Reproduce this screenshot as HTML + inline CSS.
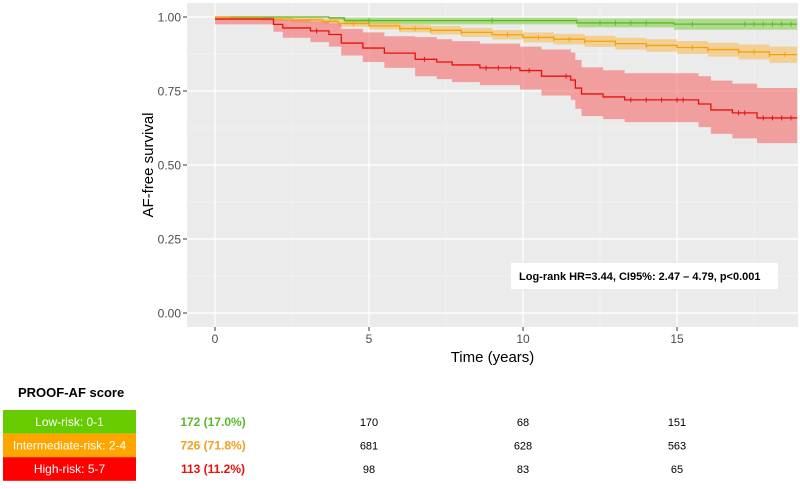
<!DOCTYPE html>
<html><head><meta charset="utf-8"><style>
body{margin:0;background:#fff;width:800px;height:484px;overflow:hidden;font-family:"Liberation Sans",sans-serif}
</style></head><body>
<svg id="chart" width="800" height="484" xmlns="http://www.w3.org/2000/svg"></svg>
<script>
const ticksX=[0,5,10,15];
const ticksY=[0,0.25,0.5,0.75,1];
const tickLabelsY=["0.00","0.25","0.50","0.75","1.00"];
const lowT=[0,3.7,4.2,11.75,14.9];
const lowS=[1,0.997,0.988,0.98,0.976];
const lowLo=[1,0.99,0.975,0.965,0.957];
const lowHi=[1,1,0.998,0.995,0.994];
const lowCens=[5,9,12.5,13,13.5,14,15.5,17.2,17.5,17.8,18.1,18.4,18.7];
const midT=[0,0.5,1.5,2.5,3.5,4,5,6,7,8,9,10,11,12,13,14,15,16,17,18];
const midS=[1,0.997,0.993,0.99,0.985,0.978,0.97,0.961,0.955,0.948,0.94,0.931,0.925,0.918,0.91,0.904,0.897,0.89,0.882,0.873];
const midLo=[1,0.992,0.986,0.982,0.975,0.967,0.958,0.948,0.941,0.933,0.924,0.914,0.907,0.899,0.89,0.883,0.875,0.866,0.857,0.845];
const midHi=[1,1,0.999,0.997,0.994,0.988,0.982,0.974,0.969,0.963,0.956,0.948,0.943,0.937,0.93,0.925,0.919,0.913,0.907,0.9];
const midCens=[4.5,6,6.5,7,8,9.5,10.5,11,11.5,12,13,14,15.5,16,17,17.5,18,18.5];
const highT=[0,1.9,2.2,3.1,3.7,4.1,4.8,5.5,6.5,7.2,7.7,8.6,9.9,10.6,11.55,11.7,11.9,12.6,13.3,15.7,16.1,16.8,17.6];
const highS=[0.993,0.975,0.963,0.953,0.941,0.912,0.895,0.878,0.857,0.848,0.838,0.828,0.819,0.8,0.787,0.76,0.74,0.73,0.72,0.706,0.686,0.676,0.659];
const highLo=[0.975,0.95,0.93,0.915,0.9,0.87,0.848,0.828,0.8,0.79,0.78,0.77,0.755,0.735,0.72,0.69,0.665,0.655,0.645,0.628,0.605,0.59,0.574];
const highHi=[1,0.995,0.99,0.985,0.978,0.96,0.948,0.935,0.932,0.925,0.918,0.91,0.9,0.89,0.88,0.855,0.83,0.82,0.81,0.8,0.785,0.775,0.76];
const highCens=[3.3,6.8,8.8,9.2,9.6,10.2,11.4,13.5,14,14.5,15,15.2,17,17.2,17.8,18.1,18.4,18.7];
const tMax=18.9;
const X0=187,X1=798,Y0=3,Y1=327;
const sx=t=>215+t*30.8;
const sy=v=>313-v*296;
const NS='http://www.w3.org/2000/svg';
const svg=document.getElementById('chart');
function mk(tag,attrs,parent){const e=document.createElementNS(NS,tag);for(const k in attrs)e.setAttribute(k,attrs[k]);(parent||svg).appendChild(e);return e;}
let e=mk('rect',{x:X0,y:Y0,width:X1-X0,height:Y1-Y0,fill:'#ebebeb'});


[-2.5,2.5,7.5,12.5,17.5].forEach(t=>{if(sx(t)>X0)mk('line',{x1:sx(t),x2:sx(t),y1:Y0,y2:Y1,stroke:'#f5f5f5','stroke-width':0.6});});
[0.125,0.375,0.625,0.875].forEach(v=>mk('line',{x1:X0,x2:X1,y1:sy(v),y2:sy(v),stroke:'#f5f5f5','stroke-width':0.6}));
ticksX.forEach(t=>{mk('line',{x1:sx(t),x2:sx(t),y1:Y0,y2:Y1,stroke:'#fff','stroke-width':1.2});
 mk('line',{x1:sx(t),x2:sx(t),y1:Y1,y2:Y1+4,stroke:'#333'});
 const tx=mk('text',{x:sx(t),y:Y1+16,'text-anchor':'middle','font-size':12,fill:'#4d4d4d'});tx.textContent=t;
 
 });
ticksY.forEach((v,i)=>{mk('line',{x1:X0,x2:X1,y1:sy(v),y2:sy(v),stroke:'#fff','stroke-width':1.2});
 mk('line',{x1:X0-4,x2:X0,y1:sy(v),y2:sy(v),stroke:'#333'});
 const tx=mk('text',{x:X0-6,y:sy(v)+4.5,'text-anchor':'end','font-size':12,fill:'#4d4d4d'});tx.textContent=tickLabelsY[i];
 
 });
function stepPath(T,S){let d='M'+sx(T[0])+','+sy(S[0]);for(let i=1;i<T.length;i++){d+=' H'+sx(T[i])+' V'+sy(S[i]);}d+=' H'+sx(tMax);return d;}
function ribbon(T,L,H){let up='M'+sx(T[0])+','+sy(H[0]);for(let i=1;i<T.length;i++)up+=' H'+sx(T[i])+' V'+sy(H[i]);up+=' H'+sx(tMax)+' V'+sy(L[L.length-1]);
 for(let i=T.length-1;i>=1;i--)up+=' H'+sx(T[i])+' V'+sy(L[i-1]);up+=' H'+sx(T[0])+' Z';return up;}
function survAt(T,S,t){let s=S[0];for(let i=0;i<T.length;i++)if(T[i]<=t)s=S[i];return s;}
const series=[
 {n:'low-risk',T:lowT,S:lowS,L:lowLo,H:lowHi,C:lowCens,col:'#5cb82a',fill:'#7ccd3c',op:0.55},
 {n:'intermediate-risk',T:midT,S:midS,L:midLo,H:midHi,C:midCens,col:'#f5a20a',fill:'#f7b84a',op:0.55},
 {n:'high-risk',T:highT,S:highS,L:highLo,H:highHi,C:highCens,col:'#e8120c',fill:'#f46a6a',op:0.6}];
series.forEach(s=>{const r=mk('path',{d:ribbon(s.T,s.L,s.H),fill:s.fill,'fill-opacity':s.op});
 
 });
series.forEach(s=>{const p=mk('path',{d:stepPath(s.T,s.S),fill:'none',stroke:s.col,'stroke-width':1.3});
 
 
 s.C.forEach(t=>{const y=sy(survAt(s.T,s.S,t));const c=mk('line',{x1:sx(t),x2:sx(t),y1:y-2.5,y2:y+2.5,stroke:s.col,'stroke-width':1});
 
 });});
let t=mk('text',{x:(X0+X1)/2,y:362,'text-anchor':'middle','font-size':15,fill:'#000'});t.textContent='Time (years)';


t=mk('text',{x:153,y:165,'text-anchor':'middle','font-size':15,fill:'#000',transform:'rotate(-90 153 165)'});t.textContent='AF-free survival';


const g=mk('g',{});


mk('rect',{x:511,y:263,width:267,height:26,fill:'#fff'},g);
t=mk('text',{x:519,y:280,'font-size':11,'font-weight':'bold',fill:'#000'},g);t.textContent='Log-rank HR=3.44, CI95%: 2.47 – 4.79, p<0.001';
t=mk('text',{x:18,y:397,'font-size':13,'font-weight':'bold',fill:'#000'});t.textContent='PROOF-AF score';


const rowNames=['Low-risk: 0-1','Intermediate-risk: 2-4','High-risk: 5-7'];
const rowTotals=['172 (17.0%)','726 (71.8%)','113 (11.2%)'];
const atRisk=[[170,68,151],[681,628,563],[98,83,65]];
const boxCols=['#66cc00','#ffa500','#ff0000'];
const txtCols=['#5cb82a','#f0a020','#e8120c'];
rowNames.forEach((n,i)=>{const y=410+i*23.6;
 const b=mk('rect',{x:3,y:y,width:133,height:23.6,fill:boxCols[i]});
 
 
 let tx=mk('text',{x:69.5,y:y+16,'text-anchor':'middle','font-size':12,fill:'#fff'});tx.textContent=n;
 tx=mk('text',{x:213,y:y+16,'text-anchor':'middle','font-size':12,'font-weight':'bold',fill:txtCols[i]});tx.textContent=rowTotals[i];
 
 
 atRisk[i].forEach((v,j)=>{const c=mk('text',{x:sx(ticksX[j+1]),y:y+16,'text-anchor':'middle','font-size':11,fill:'#000'});c.textContent=v;
 
 });});
</script>
</body></html>
